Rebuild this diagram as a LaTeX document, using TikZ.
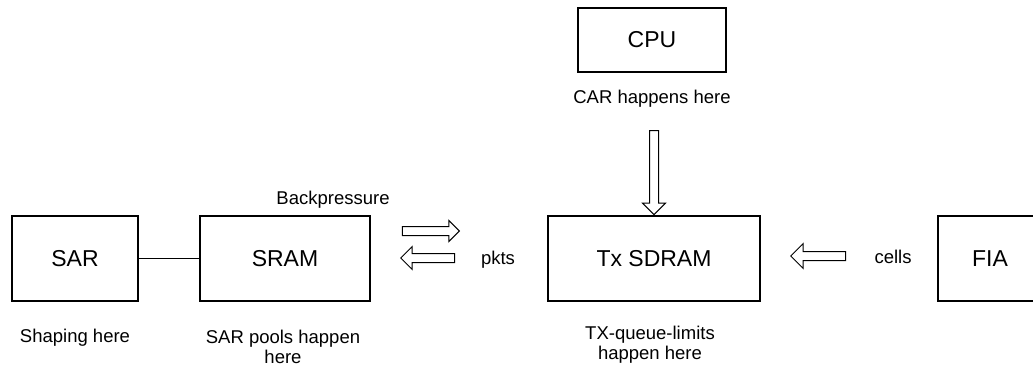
\documentclass[tikz,border=0pt]{standalone}
\usepackage{fontspec}
\setmainfont{Liberation Sans}
\usetikzlibrary{shapes.arrows}

\tikzset{
  unit/.style={draw, line width=1.2pt, font=\fontsize{23}{27}\selectfont},
  note/.style={font=\fontsize{18.5}{20}\selectfont, align=center},
  hollow/.style={single arrow, draw, line width=1pt, inner sep=4pt,
    single arrow head extend=7pt, anchor=tip}
}

\begin{document}
\begin{tikzpicture}[x=1pt,y=1pt]
        \useasboundingbox (0,0) rectangle (1033,368);
        % blocks
        \node[unit, minimum width=126pt, minimum height=85pt] (sar) at (75,109.5) {SAR};
        \node[unit, minimum width=170pt, minimum height=85pt] (sram) at (285,109.5) {SRAM};
        \node[unit, minimum width=212pt, minimum height=85pt] (txsdram) at (654,109.5) {Tx SDRAM};
        \node[unit, minimum width=104pt, minimum height=85pt] (fia) at (990,109.5) {FIA};
        \node[unit, minimum width=148pt, minimum height=64pt] (cpu) at (652,328) {CPU};
        \draw[line width=1.2pt] (sar) -- (sram);
        % arrows
        \node[hollow, minimum height=84pt, rotate=-90] (cardown) at (txsdram.north) {};
        \node[hollow, minimum height=57pt, single arrow head extend=6pt] (bpright) at (460,137) {};
        \node[hollow, minimum height=54pt, rotate=180] (bpleft) at (400,110) {};
        \node[hollow, minimum height=55pt, rotate=180, single arrow head extend=8pt] (cellsin) at (790,112) {};
        % labels
        \node[note] (carlbl) at (652,269) {CAR happens here};
        \node[note] (bplbl) at (333,168) {Backpressure};
        \node[note] (pktlbl) at (498,108) {pkts};
        \node[note] (celllbl) at (893,111) {cells};
        \node[note] (shplbl) at (75,30) {Shaping here};
        \node[note] (poollbl) at (283,21) {SAR pools happen\\here};
        \node[note] (txlbl) at (650,23) {TX-queue-limits\\happen here};
\end{tikzpicture}
\end{document}
